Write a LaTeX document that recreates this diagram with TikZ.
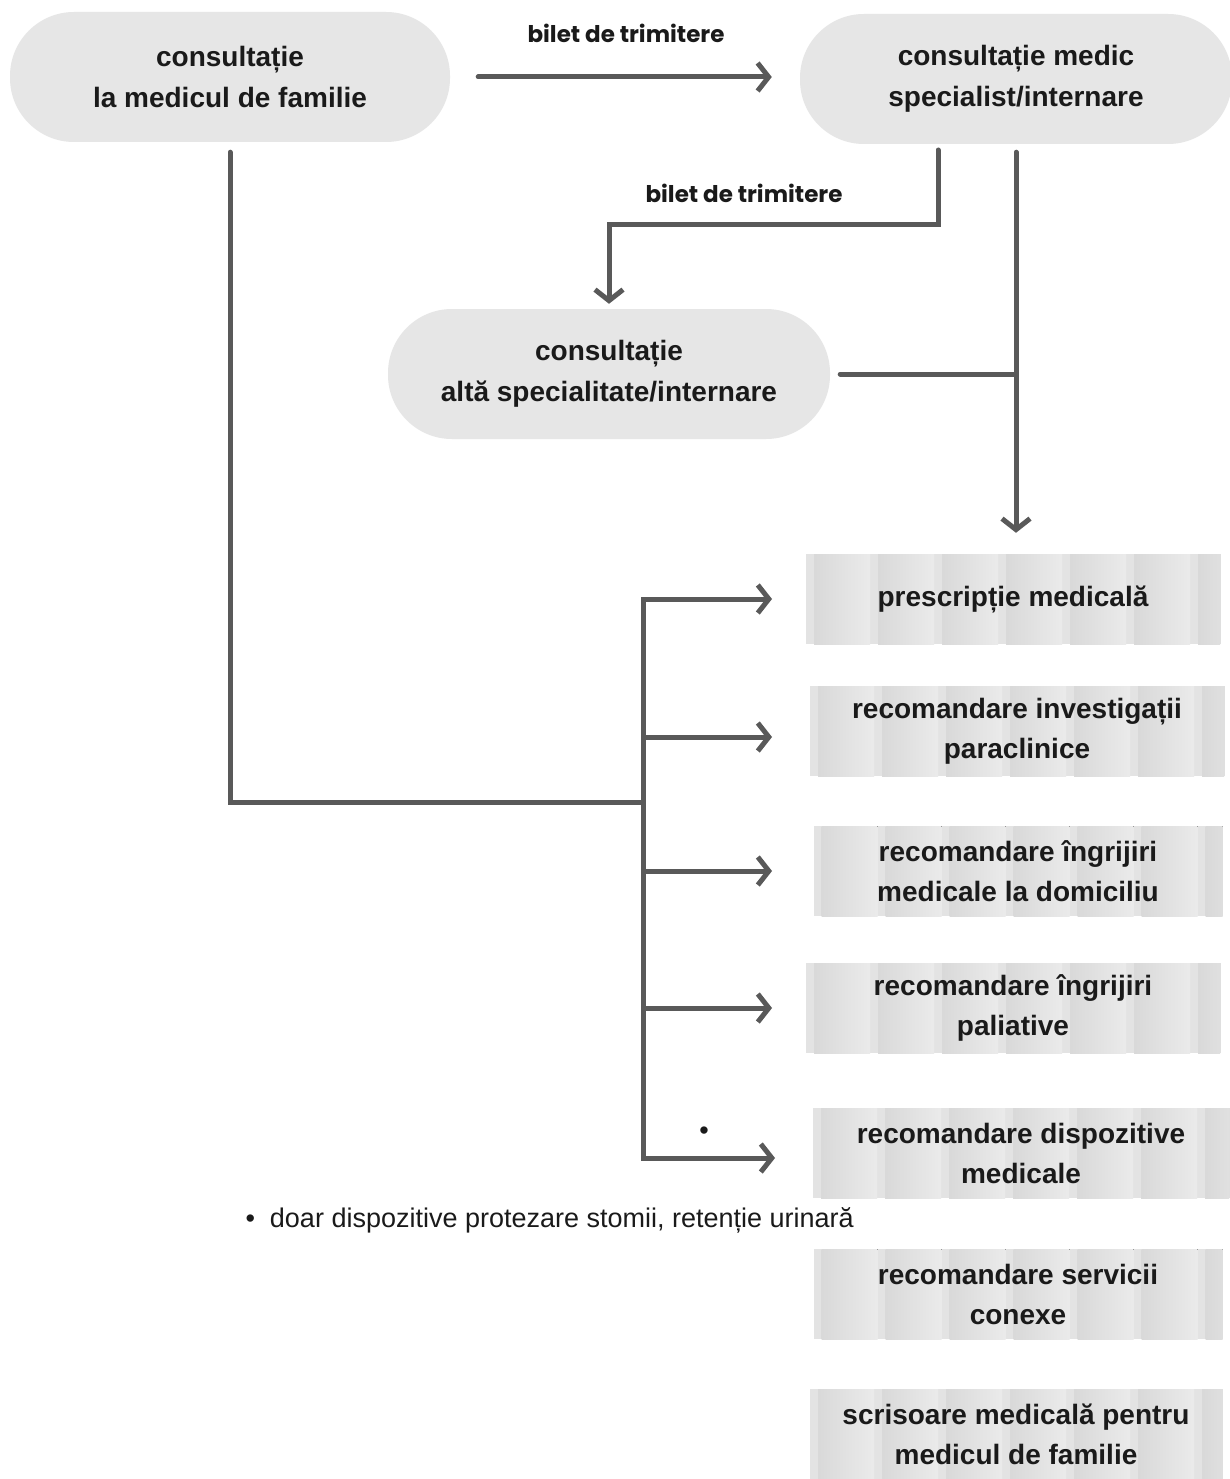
\documentclass[tikz,border=0pt]{standalone}
\usepackage{fontspec}
\setmainfont{Liberation Sans}
\newfontfamily\popfont{Poppins}
\usetikzlibrary{arrows.meta}
\definecolor{lnc}{HTML}{595959}
\definecolor{pillc}{HTML}{E6E6E6}
\definecolor{txc}{HTML}{1A1A1A}
\tikzset{
  pill/.style={fill=pillc, rounded corners=64pt, minimum height=130pt, align=center,
    text=txc, font=\fontsize{28}{41}\selectfont\bfseries, inner sep=0pt},
  stripebox/.style={minimum width=414pt, minimum height=90pt, align=center, inner sep=0pt,
    text=txc, font=\fontsize{28}{40}\selectfont\bfseries,
    path picture={
      \fill[black!11] (path picture bounding box.south west) rectangle (path picture bounding box.north east);
      \foreach \i in {0,...,6}{
        \fill[left color=black!15, right color=black!8]
          ([xshift=\i*64pt+8pt]path picture bounding box.south west) rectangle
          ([xshift=\i*64pt+64pt]path picture bounding box.north west);
      }
    }},
  conn/.style={draw=lnc, line width=5pt, line cap=round, line join=miter},
  arr/.style={conn, -{Straight Barb[length=11pt, width=28pt, line width=5pt]}},
  refl/.style={font=\popfont\fontsize{23}{26}\selectfont\bfseries, text=txc},
}
\begin{document}
\begin{tikzpicture}[x=1pt, y=-1pt]
\path[use as bounding box, fill=white] (0,0) rectangle (1229,1479);

% top nodes
\node[pill, minimum width=440pt] (A) at (230,77) {consultație\\la medicul de familie};
\node[pill, minimum width=432pt] (B) at (1016,79) {consultație medic\\specialist/internare};
\node[pill, minimum width=442pt] (C) at (609,374) {consultație\\altă specialitate/internare};

% right boxes
\node[stripebox] (p1) at (1013,599) {prescripție medicală};
\node[stripebox] (p2) at (1017,731) {recomandare investigații\\paraclinice};
\node[stripebox, minimum width=409pt] (p3) at (1018,871) {recomandare îngrijiri\\medicale la domiciliu};
\node[stripebox] (p4) at (1013,1008) {recomandare îngrijiri\\paliative};
\node[stripebox, minimum width=416pt] (p5) at (1021,1153) {recomandare dispozitive\\medicale};
\node[stripebox, minimum width=409pt] (p6) at (1018,1294) {recomandare servicii\\conexe};
\node[stripebox, minimum width=412pt] (p7) at (1016,1434) {scrisoare medicală pentru\\medicul de familie};

% labels
\node[refl] (l1) at (626,33) {bilet de trimitere};
\node[refl] (l2) at (744,193) {bilet de trimitere};
\node[font=\fontsize{27}{30}\selectfont, text=txc, anchor=west] (note) at (242,1220) {•\ \ doar dispozitive protezare stomii, retenție urinară};
\node[font=\fontsize{27}{30}\selectfont, text=txc] (dot) at (704,1133) {•};

% coordinates
\coordinate (tx) at (772,0);
\coordinate (J) at (643,802);
\coordinate (bs) at (938,150);
\coordinate (by) at (0,225);

% connectors
\draw[arr] ([xshift=28pt]A.east) -- ([xshift=-28pt]A.east -| B.west);
\draw[arr] (bs) |- (C.north |- by) -- ([yshift=5pt]C.north);
\draw[arr, shorten <=8pt] (B.south) -- ([yshift=21pt]B.south |- p1.north);
\draw[conn] ([xshift=10pt]C.east) -- (B.south |- C.east);
\draw[conn, shorten <=10pt] (A.south) |- (J);
\draw[arr] (J) |- (tx |- p1.west);
\draw[arr] (J) |- (tx |- 0,737);
\draw[arr] (J) -- (J |- p3.west) -- (tx |- p3.west);
\draw[arr] (J) |- (tx |- p4.west);
\draw[arr] (J) |- ([xshift=3pt]tx |- 0,1158);
\end{tikzpicture}
\end{document}
